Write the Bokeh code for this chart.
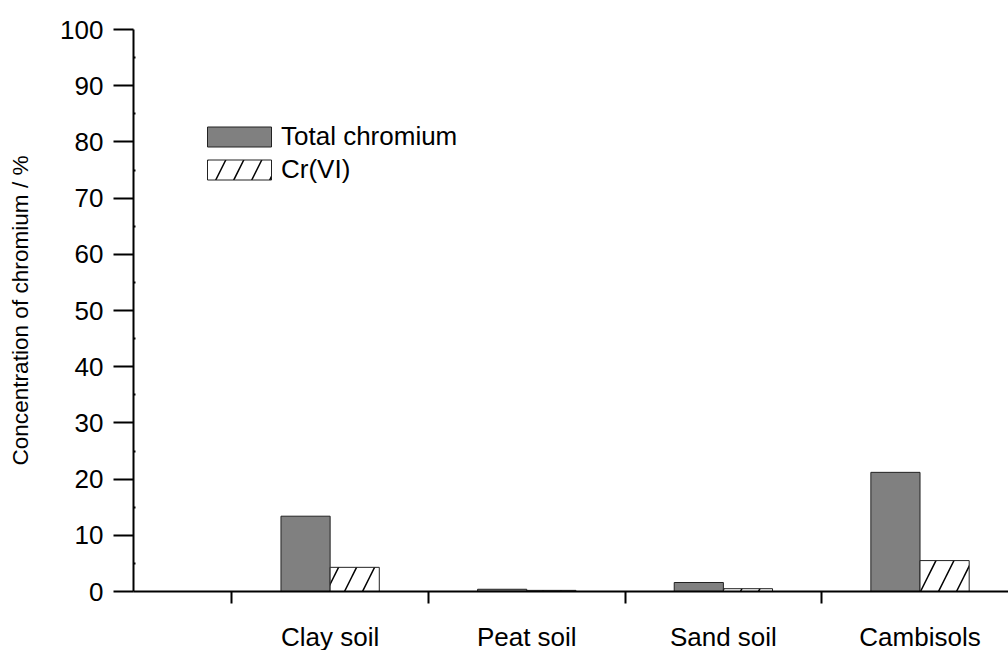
from bokeh.plotting import figure
from bokeh.models import FixedTicker, Legend, LegendItem, ColumnDataSource, Range1d
from bokeh.embed import file_html
from bokeh.resources import INLINE

categories = ["Clay soil", "Peat soil", "Sand soil", "Cambisols"]
total_chromium = [13.4, 0.4, 1.6, 21.2]
cr_vi = [4.3, 0.2, 0.5, 5.5]
y_ticks = [0, 10, 20, 30, 40, 50, 60, 70, 80, 90, 100]

xpos = [i + 1 for i in range(len(categories))]
bar_w = 0.25

FONT = "Liberation Sans"

p = figure(frame_width=875, frame_height=562, min_border_left=133, min_border_top=29,
           min_border_right=0, min_border_bottom=55,
           output_backend="svg", toolbar_location=None,
           x_range=Range1d(0, 4.45), y_range=Range1d(0, 100))

src_t = ColumnDataSource(dict(x=[x - bar_w / 2 for x in xpos], top=total_chromium))
src_c = ColumnDataSource(dict(x=[x + bar_w / 2 for x in xpos], top=cr_vi))

r1 = p.vbar(x="x", top="top", bottom=0, width=bar_w, source=src_t,
            fill_color="#808080", line_color="#222222", line_width=1)
r2 = p.vbar(x="x", top="top", bottom=0, width=bar_w, source=src_c,
            fill_color="white", line_color="#222222", line_width=1,
            hatch_pattern="/", hatch_color="black", hatch_scale=36, hatch_weight=1.5)

p.grid.visible = False
p.outline_line_color = None
p.background_fill_color = "white"
p.border_fill_color = "white"

# x axis: labels at category centres, ticks between categories (minor ticks)
xa = p.xaxis[0]
xa.ticker = FixedTicker(ticks=xpos, minor_ticks=[0.5, 1.5, 2.5, 3.5])
xa.major_label_overrides = {x: c for x, c in zip(xpos, categories)}
xa.major_tick_in = 0
xa.major_tick_out = 0
xa.minor_tick_in = 0
xa.minor_tick_out = 12
xa.minor_tick_line_width = 2
xa.minor_tick_line_color = "black"
xa.axis_line_width = 2
xa.axis_line_color = "black"
xa.major_label_standoff = 18
xa.major_label_text_font = FONT
xa.major_label_text_font_size = "26px"
xa.major_label_text_color = "black"

ya = p.yaxis[0]
ya.ticker = FixedTicker(ticks=y_ticks, minor_ticks=[5, 15, 25, 35, 45, 55, 65, 75, 85, 95])
ya.major_tick_in = 0
ya.major_tick_out = 20
ya.major_tick_line_width = 2
ya.minor_tick_in = 2
ya.minor_tick_out = 0
ya.minor_tick_line_width = 2
ya.axis_line_width = 2
ya.axis_line_color = "black"
ya.major_tick_line_color = "black"
ya.minor_tick_line_color = "black"
ya.major_label_standoff = 10
ya.major_label_text_font = FONT
ya.major_label_text_font_size = "26px"
ya.major_label_text_color = "black"
ya.axis_label = "Concentration of chromium / %"
ya.axis_label_text_font = FONT
ya.axis_label_text_font_size = "22.6px"
ya.axis_label_text_font_style = "normal"
ya.axis_label_text_color = "black"
ya.axis_label_standoff = 24

legend = Legend(items=[LegendItem(label="Total chromium", renderers=[r1]),
                       LegendItem(label="Cr(VI)", renderers=[r2])],
                location=(66, 406), orientation="vertical",
                glyph_width=80, glyph_height=25, label_standoff=2,
                label_height=30, spacing=2, padding=0, margin=0,
                border_line_alpha=0, background_fill_alpha=0,
                label_text_font=FONT, label_text_font_size="26px",
                label_text_color="black")
p.add_layout(legend, "center")

open("out.html", "w").write(file_html(p, INLINE))
